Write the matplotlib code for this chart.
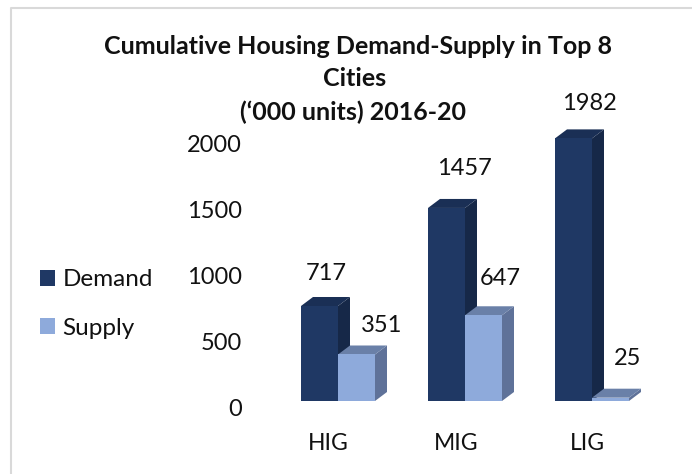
import matplotlib
matplotlib.use('Agg')
import matplotlib.pyplot as plt
from matplotlib.lines import Line2D
from matplotlib.patches import Polygon, Patch, Rectangle
from matplotlib.transforms import ScaledTranslation

plt.rcParams['font.family'] = ['Lato', 'DejaVu Sans']

categories = ['HIG', 'MIG', 'LIG']
demand = [717, 1457, 1982]
supply = [351, 647, 25]
yticks = [0, 500, 1000, 1500, 2000]
title_lines = ['Cumulative Housing Demand-Supply in Top 8', 'Cities', '(\u2018000 units) 2016-20']

W, H = 692, 474
fig = plt.figure(figsize=(W / 100, H / 100), dpi=100)
fig.patch.set_facecolor('white')

# page border, only left and top are visible in the screenshot
fig.add_artist(Line2D([10.5 / W, 10.5 / W, 1], [0, 1 - 8 / H, 1 - 8 / H], transform=fig.transFigure,
                      color='#d9d9d9', lw=1.5))

# axes: one category = 127 px, 2000 units = 265 px
ax = fig.add_axes([274.5 / W, (H - 401) / H, 381 / W, 265 / H])
ax.set_xlim(-0.5, 2.5)
ax.set_ylim(0, 2000)
ax.patch.set_visible(False)
for s in ax.spines.values():
    s.set_visible(False)
ax.tick_params(length=0)
ax.set_xticks(range(3))
ax.set_xticklabels(categories, fontsize=16.5, color='#111111')
ax.tick_params(axis='x', pad=23)
for lab, shift in zip(ax.get_xticklabels(), [-10, -9, -5]):
    lab.set_transform(lab.get_transform() + ScaledTranslation(shift / 100, 0, fig.dpi_scale_trans))
ax.set_yticks(yticks)
ax.set_yticklabels(yticks, fontsize=17, color='#111111')
for lab in ax.get_yticklabels():
    lab.set_transform(lab.get_transform() + ScaledTranslation(-28 / 100, -7 / 100, fig.dpi_scale_trans))

bar_w = 37 / 127
dx = 12 / 127
dy = 9 / 265 * 2000


def draw_bar(x0, v, front, top, side, z):
    x1 = x0 + bar_w
    ax.add_patch(Polygon([(x1, 0), (x1 + dx, dy), (x1 + dx, v + dy), (x1, v)], fc=side, ec='none', zorder=z, clip_on=False))
    ax.add_patch(Polygon([(x0, v), (x0 + dx, v + dy), (x1 + dx, v + dy), (x1, v)], fc=top, ec='none', zorder=z, clip_on=False))
    ax.add_patch(Rectangle((x0, 0), bar_w, v, fc=front, ec='none', zorder=z + 0.1, clip_on=False))


for i in range(3):
    draw_bar(i - bar_w, demand[i], '#1f3864', '#1a2f55', '#162848', 3 + i)
    draw_bar(i, supply[i], '#8eaadb', '#6a80a8', '#5f7299', 3.5 + i)

# data labels, offsets in pixels from the bar front top
demand_off = [(7, 32), (18, 39), (16, 35)]
supply_off = [(25, 29), (17, 37), (17, 39)]
for i in range(3):
    ax.annotate(str(demand[i]), (i - bar_w / 2, demand[i]), xytext=demand_off[i], textcoords='offset pixels',
                ha='center', va='center', fontsize=17, color='#111111', zorder=10)
    ax.annotate(str(supply[i]), (i + bar_w / 2, supply[i]), xytext=supply_off[i], textcoords='offset pixels',
                ha='center', va='center', fontsize=17, color='#111111', zorder=10)

# title lines placed one by one
for line, xpix, ypix in zip(title_lines, [358, 355, 353], [47, 79, 112]):
    fig.text(xpix / W, 1 - ypix / H, line, ha='center', va='center', fontsize=18, fontweight='bold', color='#111111')

handles = [Patch(fc='#1f3864', ec='none', label='Demand'), Patch(fc='#8eaadb', ec='none', label='Supply')]
fig.legend(handles=handles, loc='center left', bbox_to_anchor=(18 / W, 1 - 304 / H), frameon=False,
           fontsize=17.5, handlelength=0.62, handleheight=0.62, handletextpad=0.32, labelspacing=1.12,
           labelcolor='#111111')

fig.savefig('out.png', dpi=100)
